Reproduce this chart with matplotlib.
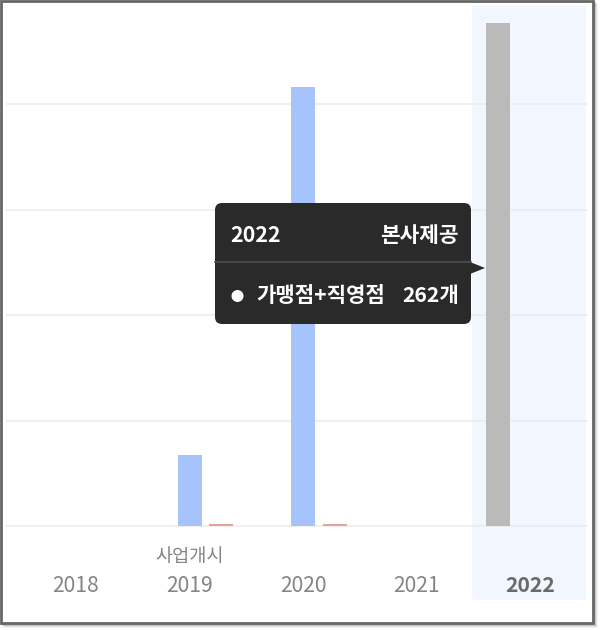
import matplotlib
matplotlib.use("Agg")
import matplotlib.pyplot as plt
from matplotlib.patches import FancyBboxPatch, Rectangle, Polygon, Circle

plt.rcParams['font.family'] = ['Noto Sans CJK KR', 'DejaVu Sans']

# ---- data ----
years = ['2018', '2019', '2020', '2021', '2022']
total_values = [0, 0, 0, 0, 262]        # gray series (가맹점+직영점)
blue_values = [0, 37, 229, 0, 0]        # blue series
orange_values = [0, 1, 1, 0, 0]         # orange series
start_label = '사업개시'
start_year_index = 1
highlight_index = 4
tooltip_title = '2022'
tooltip_source = '본사제공'
tooltip_series = '가맹점+직영점'
tooltip_value = '262개'

W, H = 600, 630
fig = plt.figure(figsize=(W / 100, H / 100), dpi=100)
fig.patch.set_facecolor('white')

# overlay axes in pixel coordinates (background frame)
bg = fig.add_axes([0, 0, 1, 1], zorder=0)
bg.set_xlim(0, W); bg.set_ylim(H, 0); bg.axis('off')
for i, a in enumerate([0.35, 0.25, 0.15, 0.07]):
    bg.add_patch(Rectangle((1 + i + 1, 1 + i + 1), 592, 622, facecolor='none',
                           edgecolor=(0.3, 0.3, 0.3, a), lw=1.2))
bg.add_patch(Rectangle((1, 1), 592, 622, facecolor='white', edgecolor='#666666', lw=2))

# data axes: pixel x 6..588, y 6..600
px = lambda x: x / W
py = lambda y: 1 - y / H
ax = fig.add_axes([px(6), py(600), px(588) - px(6), py(6) - py(600)], zorder=1)
ax.patch.set_alpha(0)
spacing = 113.5
x0 = 76.0
ax.set_xlim((6 - x0) / spacing, (588 - x0) / spacing)
scale = 1.918
base = 526.0
ax.set_ylim((base - 600) / scale, (base - 6) / scale)
for s in ax.spines.values():
    s.set_visible(False)
ax.set_xticks([]); ax.set_yticks([])

# highlight band
ax.axvspan((472 - x0) / spacing, (586 - x0) / spacing, color='#f2f6fe', zorder=0, lw=0)

# gridlines
for v in [0, 55, 110, 165, 220]:
    ax.axhline(v, color='#ececec', lw=1.2, zorder=1)

idx = list(range(len(years)))
bw = 24 / spacing
off = 31.5 / spacing
ax.bar([i - off for i in idx], total_values, width=bw, color='#bababa', zorder=2, lw=0)
ax.bar([i for i in idx], blue_values, width=bw, color='#a6c4fb', zorder=2, lw=0)
ax.bar([i + off for i in idx], orange_values, width=bw, color='#e3a595', zorder=2, lw=0)

# x labels
for i, y in enumerate(years):
    hl = (i == highlight_index)
    ax.text(i, (base - 586) / scale, y, ha='center', va='center',
            fontsize=15.2, color='#6a6a6a' if hl else '#858585',
            fontweight='bold' if hl else 'normal', zorder=3)
ax.text(start_year_index, (base - 557) / scale, start_label, ha='center', va='center',
        fontsize=13.4, color='#858585', zorder=3)

# tooltip overlay
tt = fig.add_axes([0, 0, 1, 1], zorder=5)
tt.set_xlim(0, W); tt.set_ylim(H, 0); tt.axis('off'); tt.patch.set_alpha(0)
tt.add_patch(FancyBboxPatch((215, 203), 256, 121, boxstyle='round,pad=0,rounding_size=7',
                            facecolor='#2a2a2a', edgecolor='none'))
tt.add_patch(Polygon([(470, 262), (485, 268), (470, 274)], closed=True,
                     facecolor='#2a2a2a', edgecolor='none'))
tt.plot([215, 471], [262, 262], color='#4e4e4e', lw=1.2)
tt.text(230, 236, tooltip_title, ha='left', va='center', color='white',
        fontsize=15.4, fontweight='bold')
tt.text(459, 236, tooltip_source, ha='right', va='center', color='white',
        fontsize=15.4, fontweight='bold')
tt.add_patch(Circle((237.5, 296), 6, facecolor='white', edgecolor='none'))
tt.text(256, 296, tooltip_series, ha='left', va='center', color='white',
        fontsize=15.2, fontweight='bold')
tt.text(459, 296, tooltip_value, ha='right', va='center', color='white',
        fontsize=15.2, fontweight='bold')

fig.savefig('out.png', dpi=100, facecolor='white')
